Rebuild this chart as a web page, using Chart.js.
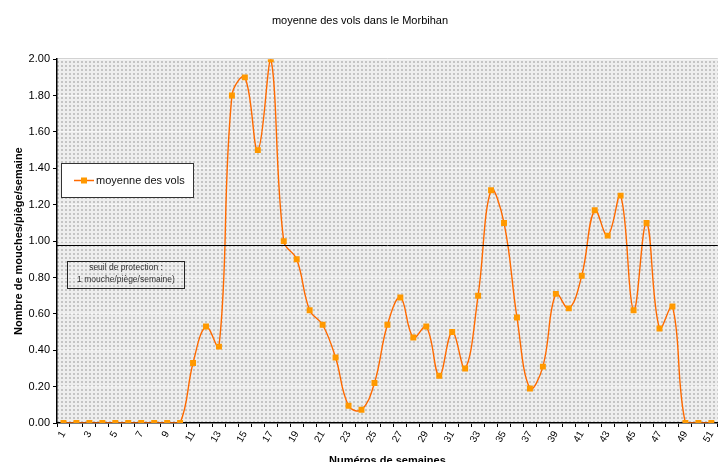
<!DOCTYPE html>
<html>
<head>
<meta charset="utf-8">
<script src="https://cdn.jsdelivr.net/npm/chart.js@4/dist/chart.umd.min.js"></script>
<style>
	html, body { margin: 0; padding: 0; background: #fff; overflow: hidden; }
	#wrap { width: 722px; height: 462px; overflow: hidden; }
</style>
</head>
<body>
<div id="wrap"><canvas id="vols" width="722" height="468"></canvas></div>
<script>
const semaines = [];
for (let i = 1; i <= 51; i++) semaines.push(String(i));

const moyenneVols = [
	0, 0, 0, 0, 0, 0, 0, 0, 0, 0,
	0.33, 0.53, 0.42, 1.80, 1.90, 1.50, 2.00, 1.00, 0.90, 0.62,
	0.54, 0.36, 0.095, 0.073, 0.22, 0.54, 0.69, 0.47, 0.53, 0.26,
	0.50, 0.30, 0.70, 1.28, 1.10, 0.58, 0.19, 0.31, 0.71, 0.63,
	0.81, 1.17, 1.03, 1.25, 0.62, 1.10, 0.52, 0.64, 0, 0,
	0,
];

const seuil = 0.98;
const seuilTexte = ["seuil de protection :", "1 mouche/piège/semaine)"];
const yTicks = [0, 0.2, 0.4, 0.6, 0.8, 1.0, 1.2, 1.4, 1.6, 1.8, 2.0];

const font = "'Liberation Sans', Arial, sans-serif";

function makePattern() {
	const c = document.createElement("canvas");
	c.width = 4;
	c.height = 4;
	const g = c.getContext("2d");
	g.fillStyle = "#eeeeee";
	g.fillRect(0, 0, 4, 4);
	g.fillStyle = "#c4c4c4";
	g.fillRect(1, 1, 2, 2);
	return g.createPattern(c, "repeat");
}

const fond = {
	id: "fond",
	beforeDraw(chart) {
		const { ctx, chartArea: a } = chart;
		ctx.save();
		ctx.fillStyle = makePattern();
		ctx.fillRect(a.left, a.top, a.right - a.left, a.bottom - a.top);
		ctx.strokeStyle = "#c8c8c8";
		ctx.lineWidth = 1;
		ctx.beginPath();
		ctx.moveTo(a.left, a.top - 0.5);
		ctx.lineTo(a.right, a.top - 0.5);
		ctx.stroke();
		ctx.restore();
	},
};

const extras = {
	id: "extras",
	afterDatasetsDraw(chart) {
		const { ctx, chartArea: a, scales } = chart;
		const y = Math.round(scales.y.getPixelForValue(seuil)) + 0.5;
		ctx.save();
		ctx.strokeStyle = "#000";
		ctx.lineWidth = 1;
		ctx.beginPath();
		ctx.moveTo(a.left, y);
		ctx.lineTo(a.right, y);
		ctx.stroke();

		// legende
		ctx.fillStyle = "#fff";
		ctx.fillRect(61.5, 163.5, 132, 34);
		ctx.strokeStyle = "#333";
		ctx.strokeRect(61.5, 163.5, 132, 34);
		ctx.strokeStyle = "#ff6a00";
		ctx.lineWidth = 1.5;
		ctx.beginPath();
		ctx.moveTo(74, 180.5);
		ctx.lineTo(94, 180.5);
		ctx.stroke();
		ctx.fillStyle = "#ff9900";
		ctx.fillRect(81, 177.5, 6, 6);
		ctx.fillStyle = "#111";
		ctx.font = "11px " + font;
		ctx.textBaseline = "middle";
		ctx.textAlign = "left";
		ctx.fillText(chart.data.datasets[0].label, 96, 181);

		// seuil
		ctx.strokeStyle = "#222";
		ctx.lineWidth = 1;
		ctx.strokeRect(67.5, 261.5, 117, 27);
		ctx.fillStyle = "#333";
		ctx.font = "8.5px " + font;
		ctx.textAlign = "center";
		ctx.fillText(seuilTexte[0], 126, 268);
		ctx.fillText(seuilTexte[1], 126, 280);
		ctx.restore();
	},
};

new Chart(document.getElementById("vols").getContext("2d"), {
	type: "line",
	data: {
		labels: semaines,
		datasets: [
			{
				label: "moyenne des vols",
				data: moyenneVols,
				borderColor: "#ff6a00",
				borderWidth: 1.4,
				backgroundColor: "#ff9900",
				pointBackgroundColor: "#ff9900",
				pointBorderWidth: 0,
				pointStyle: "rect",
				pointRadius: 4.2,
				tension: 0.4,
				fill: false,
			},
		],
	},
	options: {
		responsive: false,
		animation: false,
		layout: { padding: { left: 0, right: 2, top: 0, bottom: 0 } },
		plugins: {
			legend: { display: false },
			tooltip: { enabled: false },
			title: {
				display: true,
				text: "moyenne des vols dans le Morbihan",
				color: "#000",
				font: { family: font, size: 11, weight: "normal" },
				padding: { top: 14, bottom: 32 },
			},
		},
		scales: {
			x: {
				offset: true,
				grid: {
					offset: true,
					drawOnChartArea: false,
					drawTicks: true,
					tickLength: 4,
					tickColor: "#000",
				},
				border: { color: "#000", width: 1.5 },
				ticks: {
					autoSkip: false,
					maxRotation: 60,
					minRotation: 60,
					color: "#000",
					padding: 2,
					font: { family: font, size: 10 },
					callback: (v, i) => (i % 2 === 0 ? semaines[i] : ""),
				},
				title: {
					display: true,
					text: "Numéros de semaines",
					color: "#000",
					font: { family: font, size: 11, weight: "bold" },
					padding: { top: 0, bottom: 0 },
				},
				afterFit(s) {
					s.height = 45;
					s.paddingRight = 0;
					s.paddingLeft = 0;
				},
			},
			y: {
				min: 0,
				max: 2,
				afterBuildTicks(s) {
					s.ticks = yTicks.map((v) => ({ value: v }));
				},
				grid: {
					color: "rgba(255,255,255,0.55)",
					tickColor: "#000",
					tickLength: 4,
				},
				border: { color: "#000", width: 1.5 },
				ticks: {
					color: "#000",
					padding: 3,
					font: { family: font, size: 11 },
					callback: (v) => Number(v).toFixed(2),
				},
				title: {
					display: true,
					text: "Nombre de mouches/piège/semaine",
					color: "#000",
					font: { family: font, size: 11, weight: "bold" },
					padding: { top: 12, bottom: 4 },
				},
				afterFit(s) {
					s.width = 57;
				},
			},
		},
	},
	plugins: [fond, extras],
});
</script>
</body>
</html>
